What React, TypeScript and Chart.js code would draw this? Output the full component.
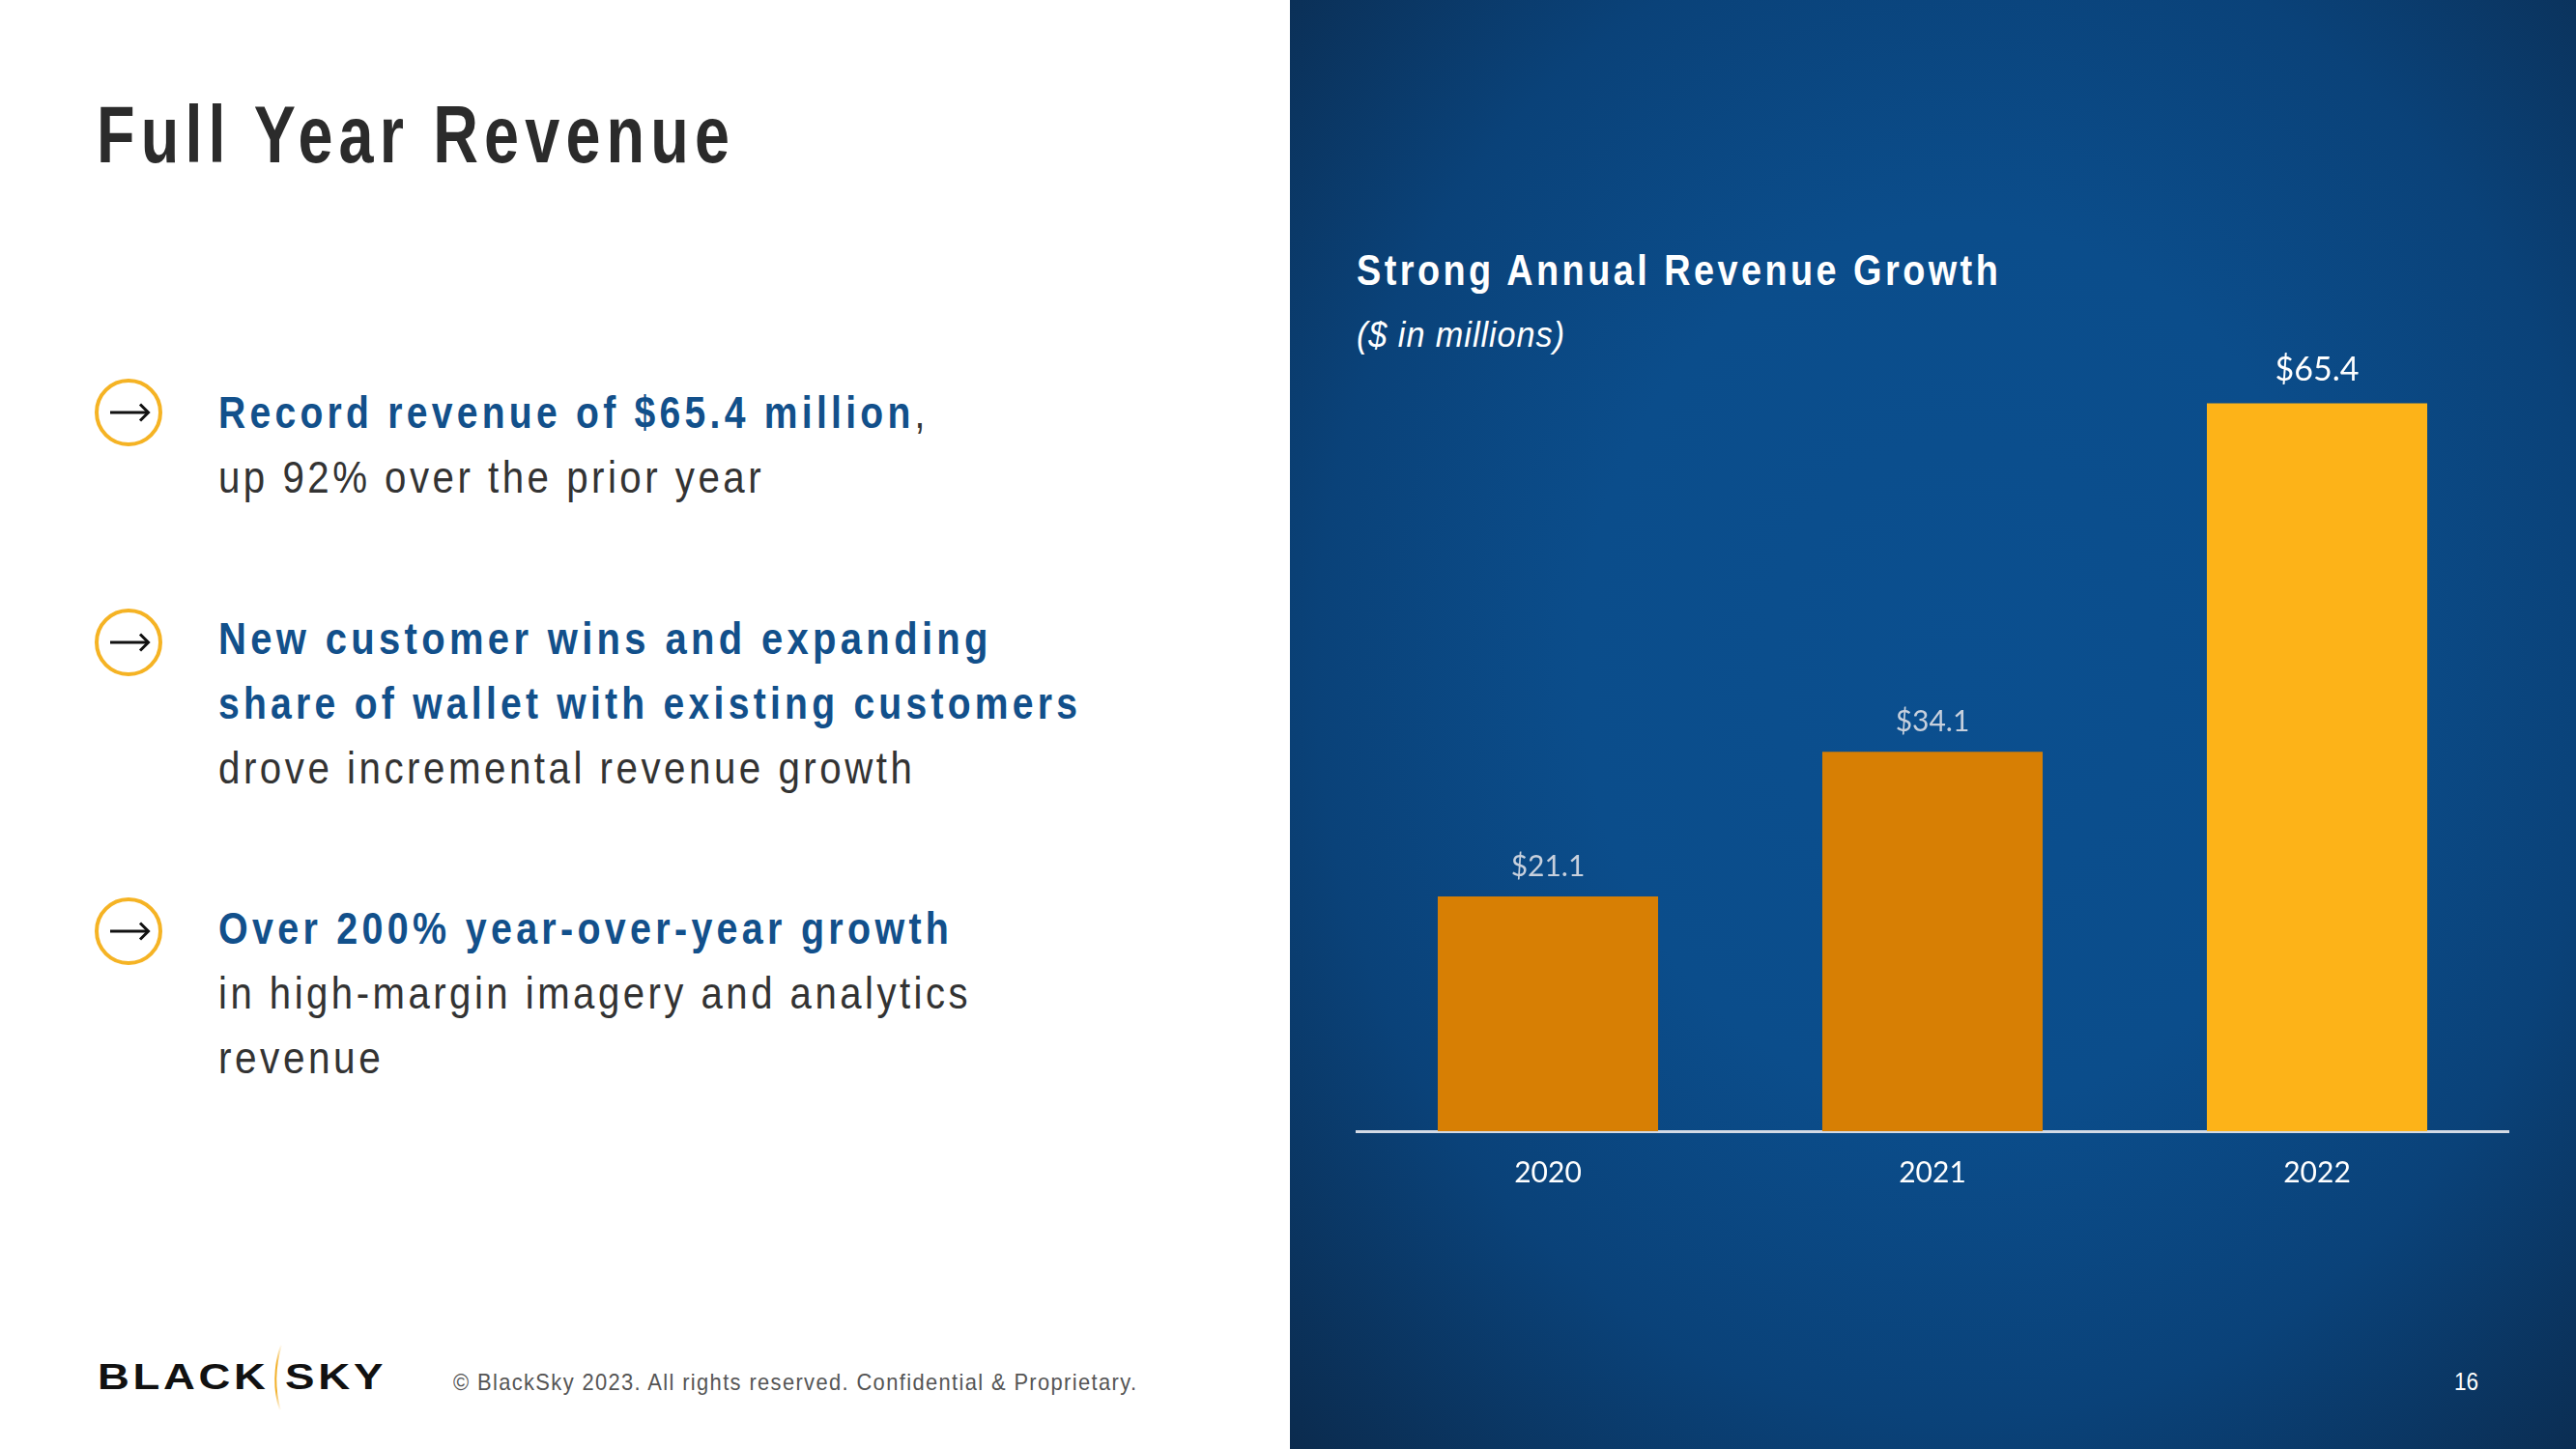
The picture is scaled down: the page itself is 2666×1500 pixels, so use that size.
import React, { useEffect, useLayoutEffect, useRef } from "react";
import { Chart, registerables } from "chart.js";

Chart.register(...registerables);

// ---- data ----
const categories = ["2020", "2021", "2022"];
const revenue = [21.1, 34.1, 65.4];
const barColors = ["#D77F04", "#D77F04", "#FDB318"];
const valueLabelColors = ["#C7D0DD", "#C7D0DD", "#FFFFFF"];
const yAxisMax = 73;

const BLUE = "#12508B";
const DARK = "#333333";
const SANS = '"Liberation Sans", Arial, Helvetica, sans-serif';

type FitProps = {
  x: number;
  baseline: number;
  size: number;
  width: number;
  weight?: number | string;
  italic?: boolean;
  color?: string;
  ls?: number;
  family?: string;
  children: React.ReactNode;
};

function FitText({ x, baseline, size, width, weight = 400, italic = false, color = DARK, ls = 0, family = SANS, children }: FitProps) {
  const ref = useRef<HTMLSpanElement | null>(null);
  useLayoutEffect(() => {
    const el = ref.current;
    if (!el) return;
    const w = el.offsetWidth;
    if (w > 0) el.style.transform = `scaleX(${width / w})`;
  });
  return (
    <span
      ref={ref}
      style={{
        position: "absolute",
        left: x,
        top: baseline - 0.8465 * size,
        fontFamily: family,
        fontSize: size,
        lineHeight: `${size}px`,
        fontWeight: weight as any,
        fontStyle: italic ? "italic" : "normal",
        color,
        letterSpacing: ls,
        whiteSpace: "nowrap",
        transformOrigin: "0 0",
        display: "inline-block",
      }}
    >
      {children}
    </span>
  );
}

function Bullet({ cx, cy }: { cx: number; cy: number }) {
  return (
    <svg width={90} height={90} style={{ position: "absolute", left: cx - 45, top: cy - 45 }}>
      <circle cx={45} cy={45} r={33} fill="none" stroke="#F5B324" strokeWidth={4} />
      <line x1={26} y1={45} x2={65} y2={45} stroke="#111" strokeWidth={3} />
      <polyline points="57,36.5 65.5,45 57,53.5" fill="none" stroke="#111" strokeWidth={3} />
    </svg>
  );
}

function RevenueChart() {
  const canvasRef = useRef<HTMLCanvasElement | null>(null);
  useEffect(() => {
    const canvas = canvasRef.current;
    if (!canvas) return;
    const valueLabels = {
      id: "valueLabels",
      afterDatasetsDraw(chart: any) {
        const ctx = chart.ctx;
        const meta = chart.getDatasetMeta(0);
        ctx.save();
        ctx.textAlign = "center";
        ctx.textBaseline = "middle";
        meta.data.forEach((bar: any, i: number) => {
          ctx.font = i === 2 ? '34px Lato, "Open Sans", sans-serif' : '30px Lato, "Open Sans", sans-serif';
          ctx.fillStyle = valueLabelColors[i];
          ctx.fillText(`$${revenue[i].toFixed(1)}`, bar.x, bar.y - (i === 2 ? 35 : 31));
        });
        ctx.restore();
      },
    };
    const chart = new Chart(canvas, {
      type: "bar",
      data: {
        labels: categories,
        datasets: [
          {
            data: revenue,
            backgroundColor: barColors,
            borderWidth: 0,
            barPercentage: 0.573,
            categoryPercentage: 1,
          },
        ],
      },
      options: {
        responsive: false,
        animation: false,
        layout: { padding: 0 },
        plugins: { legend: { display: false }, tooltip: { enabled: false }, title: { display: false } },
        scales: {
          x: {
            grid: { display: false },
            border: { display: true, color: "#D3DAE5", width: 3 },
            ticks: {
              color: "#FFFFFF",
              padding: 17,
              font: { family: 'Lato, "Open Sans", sans-serif', size: 30 },
            },
          },
          y: {
            display: false,
            min: 0,
            max: yAxisMax,
            beginAtZero: true,
          },
        },
      },
      plugins: [valueLabels],
    });
    return () => chart.destroy();
  }, []);
  return (
    <canvas
      ref={canvasRef}
      width={1194}
      height={919}
      style={{ position: "absolute", left: 1403, top: 330, width: 1194, height: 919 }}
    />
  );
}

export default function App() {
  return (
    <div
      style={{
        position: "fixed",
        left: 0,
        top: 0,
        width: 2666,
        height: 1500,
        background: "#FFFFFF",
        overflow: "hidden",
        fontFamily: SANS,
      }}
    >
      {/* Left panel */}
      <FitText x={100} baseline={168} size={84} width={661} weight={700} color="#2B2B2B" ls={8}>
        Full Year Revenue
      </FitText>

      <Bullet cx={133} cy={427} />
      <FitText x={226} baseline={443} size={46} width={736} weight={700} color={BLUE} ls={5}>
        Record revenue of $65.4 million<span style={{ color: DARK, fontWeight: 400 }}>,</span>
      </FitText>
      <FitText x={226} baseline={510} size={46} width={565} ls={4}>
        up 92% over the prior year
      </FitText>

      <Bullet cx={133} cy={665} />
      <FitText x={226} baseline={677} size={46} width={801} weight={700} color={BLUE} ls={5}>
        New customer wins and expanding
      </FitText>
      <FitText x={226} baseline={744} size={46} width={893} weight={700} color={BLUE} ls={5}>
        share of wallet with existing customers
      </FitText>
      <FitText x={226} baseline={811} size={46} width={721} ls={4}>
        drove incremental revenue growth
      </FitText>

      <Bullet cx={133} cy={964} />
      <FitText x={226} baseline={977} size={46} width={760} weight={700} color={BLUE} ls={5}>
        Over 200% year-over-year growth
      </FitText>
      <FitText x={226} baseline={1044} size={46} width={779} ls={4}>
        in high-margin imagery and analytics
      </FitText>
      <FitText x={226} baseline={1111} size={46} width={171} ls={4}>
        revenue
      </FitText>

      {/* Footer logo */}
      <FitText x={101} baseline={1438} size={37} width={177} weight={700} color="#111111" ls={3}>
        BLACK
      </FitText>
      <FitText x={295} baseline={1438} size={37} width={105} weight={700} color="#111111" ls={3}>
        SKY
      </FitText>
      <svg width={20} height={80} style={{ position: "absolute", left: 278, top: 1388 }}>
        <defs>
          <linearGradient id="arcg" x1="0" y1="0" x2="0" y2="1">
            <stop offset="0" stopColor="#F2B02A" stopOpacity="0" />
            <stop offset="0.3" stopColor="#F2B02A" stopOpacity="1" />
            <stop offset="0.7" stopColor="#F2B02A" stopOpacity="1" />
            <stop offset="1" stopColor="#F2B02A" stopOpacity="0" />
          </linearGradient>
        </defs>
        <path d="M 13 4 Q 2 40 12 72" fill="none" stroke="url(#arcg)" strokeWidth={2} />
      </svg>
      <FitText x={469} baseline={1439} size={24} width={708} color="#555555" ls={1.5}>
        © BlackSky 2023. All rights reserved. Confidential &amp; Proprietary.
      </FitText>

      {/* Right panel */}
      <div
        style={{
          position: "absolute",
          left: 1335,
          top: 0,
          width: 1331,
          height: 1500,
          background:
            "radial-gradient(ellipse farthest-corner at 52% 46%, #0B4F8F 0%, #0B4D8B 40%, #0A4279 68%, #0B2B4E 100%)",
        }}
      />
      <FitText x={1404} baseline={295} size={44} width={667} weight={700} color="#FFFFFF" ls={4}>
        Strong Annual Revenue Growth
      </FitText>
      <FitText x={1404} baseline={359} size={36} width={216} italic color="#FFFFFF" ls={1}>
        ($ in millions)
      </FitText>
      <RevenueChart />
      <FitText x={2540} baseline={1439} size={26} width={25} color="#FFFFFF">
        16
      </FitText>
    </div>
  );
}
